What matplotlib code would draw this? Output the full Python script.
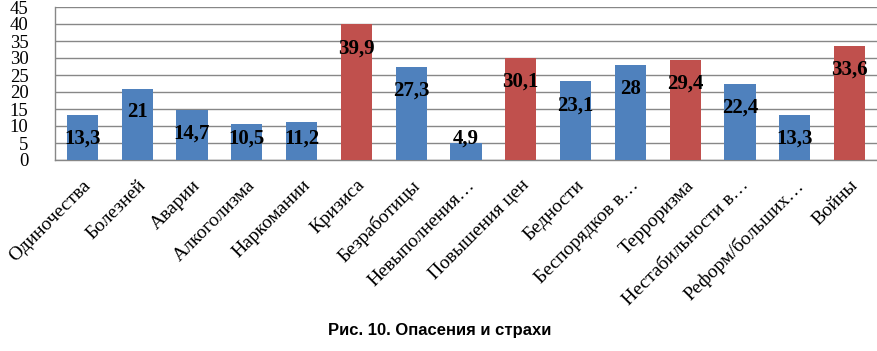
import matplotlib.pyplot as plt
from matplotlib.axes import Axes

CATEGORIES = [
    "Одиночества",
    "Болезней",
    "Аварии",
    "Алкоголизма",
    "Наркомании",
    "Кризиса",
    "Безработицы",
    "Невыполнения…",
    "Повышения цен",
    "Бедности",
    "Беспорядков в…",
    "Терроризма",
    "Нестабильности в…",
    "Реформ/больших…",
    "Войны",
]
VALUES = [13.3, 21, 14.7, 10.5, 11.2, 39.9, 27.3, 4.9, 30.1, 23.1, 28, 29.4, 22.4, 13.3, 33.6]
HIGHLIGHT = [False, False, False, False, False, True, False, False, True, False, False, True, False, False, True]
LABELS = ["13,3", "21", "14,7", "10,5", "11,2", "39,9", "27,3", "4,9", "30,1", "23,1", "28", "29,4", "22,4", "13,3", "33,6"]

BLUE = "#4F81BD"
RED = "#C0504D"
GRID = "#878787"


def main():
    fig = plt.figure(figsize=(8.77, 3.51), dpi=100)
    ax: Axes = fig.add_axes((55 / 877, 1 - 160 / 351, 822 / 877, 153 / 351))

    x = list(range(len(VALUES)))
    colors = [RED if h else BLUE for h in HIGHLIGHT]
    ax.bar(x, VALUES, width=0.57, color=colors, zorder=3)

    # data labels inside the bar end, kept inside the plot for short bars
    for xi, v, lab in zip(x, VALUES, LABELS):
        ax.text(xi, max(v - 7.0, 6.3), lab, ha="center", va="center",
                fontsize=15, fontweight="bold", family="Liberation Serif",
                color="black", zorder=4)

    ax.set_xlim(-0.5, len(VALUES) - 0.5)
    ax.set_ylim(0, 45)
    ax.set_yticks(range(0, 46, 5))
    ax.yaxis.grid(True, color=GRID, linewidth=1.0, zorder=0)
    ax.set_axisbelow(True)

    ax.set_xticks(x)
    ax.set_xticklabels(CATEGORIES, rotation=45, ha="right",
                       rotation_mode="anchor", family="Liberation Serif",
                       fontsize=14)
    for lbl in ax.get_yticklabels():
        lbl.set_family("Liberation Serif")
        lbl.set_fontsize(13.5)
    ax.tick_params(axis="y", length=0, pad=19)
    ax.tick_params(axis="x", length=0, pad=12)

    for side in ("top", "right"):
        ax.spines[side].set_visible(False)
    for side in ("left", "bottom"):
        ax.spines[side].set_color(GRID)
        ax.spines[side].set_linewidth(1.0)

    fig.text(440 / 877, 1 - 331 / 351, "Рис. 10. Опасения и страхи",
             ha="center", va="center", fontsize=12, fontweight="bold",
             family="Liberation Sans")

    fig.savefig("out.png", dpi=100)


if __name__ == "__main__":
    main()
